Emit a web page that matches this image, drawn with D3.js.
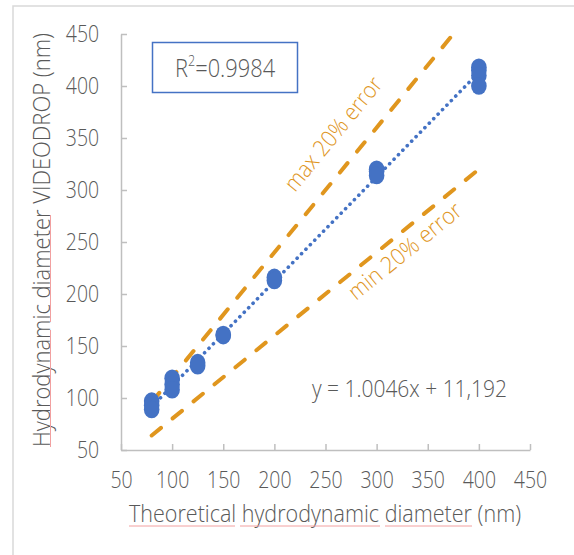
<!DOCTYPE html>
<html><head><meta charset="utf-8">
<script src="https://cdn.jsdelivr.net/npm/d3@7"></script>
<style>
body{margin:0;background:#fff;}
text{font-family:"Open Sans",sans-serif;font-weight:300;fill:#595959;}
</style></head>
<body><svg id="c" width="574" height="555"></svg>
<script>
// data
const theoretical = [80,80,80,100,100,100,125,125,150,150,200,200,300,300,300,400,400,400,400];
const measured    = [97,93,89,119,113,108,134,131,160,161,216,213,320,318,314,418,415,410,400];
const xTicks = [50,100,150,200,250,300,350,400,450];
const yTicks = [50,100,150,200,250,300,350,400,450];
const trendSlope = 1.0046, trendIntercept = 11.192;
const trendRange = [80,400];
const maxErrorLine = [[80,96],[375,450]];
const minErrorLine = [[80,64],[400,320]];
const r2Label = "0.9984";
const eqLabel = "y = 1.0046x + 11,192";

const svg = d3.select("#c");
svg.append("rect").attr("x",13).attr("y",6).attr("width",700).attr("height",700)
  .attr("fill","#fff").attr("stroke","#D9D9D9").attr("stroke-width",1.5);

const x = d3.scaleLinear([50,450],[121,530]);
const y = d3.scaleLinear([50,450],[450,34]);

const gx = svg.append("g").attr("transform","translate(0,450)")
  .call(d3.axisBottom(x).tickValues(xTicks).tickSize(-6).tickSizeOuter(0).tickPadding(21));
const gy = svg.append("g").attr("transform","translate(121,0)")
  .call(d3.axisLeft(y).tickValues(yTicks).tickSize(-6).tickSizeOuter(0).tickPadding(27));
[gx,gy].forEach(g=>{
  g.select(".domain").attr("stroke","#BFBFBF").attr("stroke-width",1.5);
  g.selectAll(".tick line").attr("stroke","#BFBFBF").attr("stroke-width",1.5);
  g.selectAll(".tick text").attr("font-size",24).attr("fill","#595959")
   .style("font-family","'Open Sans',sans-serif").style("font-weight",300)
   .attr("transform","scale(0.81,1)");
});

const line = d3.line().x(d=>x(d[0])).y(d=>y(d[1]));
const orange = "#E0961E";
[maxErrorLine,minErrorLine].forEach(l=>{
  svg.append("path").attr("d",line(l)).attr("fill","none").attr("stroke",orange)
    .attr("stroke-width",4).attr("stroke-dasharray","12 15").attr("stroke-linecap","round");
});

const trend = trendRange.map(v=>[v, trendSlope*v+trendIntercept]);
svg.append("path").attr("d",line(trend)).attr("fill","none").attr("stroke","#4472C4")
  .attr("stroke-width",3.6).attr("stroke-dasharray","0.1 6.2").attr("stroke-linecap","round");

svg.append("g").selectAll("ellipse").data(theoretical.map((t,i)=>[t,measured[i]]))
  .join("ellipse").attr("cx",d=>x(d[0])).attr("cy",d=>y(d[1])).attr("rx",7.8).attr("ry",8.8)
  .attr("fill","#4472C4");

// labels along error lines
const angMax = Math.atan2(y(maxErrorLine[0][1])-y(maxErrorLine[1][1]), x(maxErrorLine[1][0])-x(maxErrorLine[0][0]))*180/Math.PI;
const angMin = Math.atan2(y(minErrorLine[0][1])-y(minErrorLine[1][1]), x(minErrorLine[1][0])-x(minErrorLine[0][0]))*180/Math.PI;
svg.append("text").attr("transform",`translate(295,193) rotate(${-angMax})`)
  .attr("font-size",23).attr("textLength",140).attr("lengthAdjust","spacingAndGlyphs")
  .style("fill",orange).text("max 20% error");
svg.append("text").attr("transform",`translate(356,301) rotate(${-angMin})`)
  .attr("font-size",23).attr("textLength",139).attr("lengthAdjust","spacingAndGlyphs")
  .style("fill",orange).text("min 20% error");

// R2 box
svg.append("rect").attr("x",152.5).attr("y",42.5).attr("width",145).attr("height",50)
  .attr("fill","#fff").attr("stroke","#4472C4").attr("stroke-width",1.5);
const rt = svg.append("text").attr("transform","translate(175,77) scale(0.84,1)").attr("font-size",26);
rt.append("tspan").text("R");
rt.append("tspan").attr("font-size",15).attr("dy",-11).text("2");
rt.append("tspan").attr("dy",11).text("="+r2Label);

svg.append("text").attr("x",312).attr("y",397).attr("font-size",24)
  .attr("textLength",195).attr("lengthAdjust","spacingAndGlyphs").text(eqLabel);

// axis titles
svg.append("text").attr("x",129).attr("y",522)
  .attr("font-size",24).attr("textLength",392).attr("lengthAdjust","spacingAndGlyphs")
  .text("Theoretical hydrodynamic diameter (nm)");
svg.append("text").attr("transform","translate(50,447) rotate(-90)")
  .attr("font-size",24).attr("textLength",414).attr("lengthAdjust","spacingAndGlyphs")
  .text("Hydrodynamic diameter VIDEODROP (nm)");

// spell-check squiggles (decoration seen in source)
const pink = "#F2A0A0";
[[129,235],[240,380],[385,472]].forEach(s=>svg.append("line")
  .attr("x1",s[0]).attr("x2",s[1]).attr("y1",526).attr("y2",526)
  .attr("stroke",pink).attr("stroke-width",1));
[[447,330],[322,215]].forEach(s=>svg.append("line")
  .attr("x1",50.5).attr("x2",50.5).attr("y1",s[0]).attr("y2",s[1])
  .attr("stroke",pink).attr("stroke-width",1));
</script></body></html>
